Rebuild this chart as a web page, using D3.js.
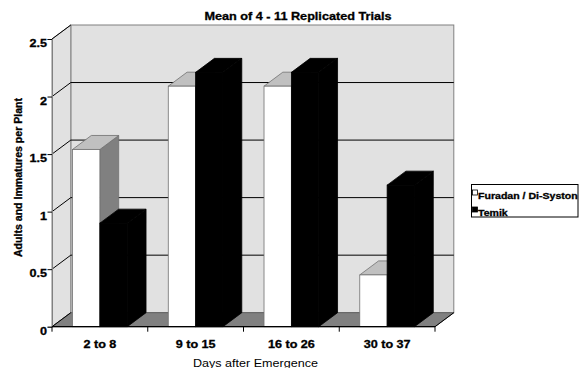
<!DOCTYPE html>
<html>
<head>
<meta charset="utf-8">
<script src="https://cdn.jsdelivr.net/npm/d3@7"></script>
<style>
  html, body { margin: 0; padding: 0; background: #fff; }
  svg { display: block; }
  text { font-family: "Liberation Sans", Arial, sans-serif; fill: #000; }
  text.heavy { stroke: #000; stroke-width: 0.3px; }
</style>
</head>
<body>
<svg id="chart" width="579" height="368"></svg>
<script>
// Pest counts by sampling period, two soil insecticide treatments
const categories = ["2 to 8", "9 to 15", "16 to 26", "30 to 37"];
const seriesNames = ["Furadan / Di-Syston", "Temik"];
const furadanValues = [1.54, 2.09, 2.09, 0.45];
const temikValues = [0.90, 2.21, 2.21, 1.23];
const yTickValues = [0, 0.5, 1, 1.5, 2, 2.5];
const yTickLabels = ["0", "0.5", "1", "1.5", "2", "2.5"];
const titleText = "Mean of 4 - 11 Replicated Trials";
const xTitleText = "Days after Emergence";
const yTitleText = "Adults and Immatures per Plant";

const svg = d3.select("#chart");

// front plane of the 3-D box and the depth offset to the back wall
const left = 52, right = 435;
const dx = 18.8, dy = -14;
const STRETCH = 1.2; // horizontal widening of all labels

const x = d3.scaleBand().domain(categories).range([left, right]).paddingInner(0).paddingOuter(0);
const xs = d3.scaleBand().domain(seriesNames).range([0, x.bandwidth()]).paddingInner(0).paddingOuter(0.75);
const y = d3.scaleLinear().domain([0, 2.5]).range([326.7, 39]);

const y0 = y(0), yTop = y(2.5);

const seriesStyle = {
  "Furadan / Di-Syston": { front: "#ffffff", top: "#c0c0c0", side: "#808080", stroke: "#707070" },
  "Temik": { front: "#000000", top: "#000000", side: "#000000", stroke: "#000000" }
};

const pts = p => p.map(d => d.join(",")).join(" ");

function widen(sel, factor) {
  sel.each(function () {
    const w = this.getComputedTextLength();
    this.setAttribute("textLength", w * factor);
    this.setAttribute("lengthAdjust", "spacingAndGlyphs");
  });
}
function fixLength(sel, len) {
  sel.attr("textLength", len).attr("lengthAdjust", "spacingAndGlyphs");
}

// walls and floor
const box = svg.append("g");
box.append("rect")
  .attr("x", left + dx).attr("y", yTop + dy)
  .attr("width", right - left).attr("height", y0 - yTop)
  .attr("fill", "#e1e1e1").attr("stroke", "#808080").attr("stroke-width", 1);
box.append("polygon")
  .attr("points", pts([[left, yTop], [left + dx, yTop + dy], [left + dx, y0 + dy], [left, y0]]))
  .attr("fill", "#e1e1e1").attr("stroke", "#808080").attr("stroke-width", 1);
box.append("polygon")
  .attr("points", pts([[left, y0], [left + dx, y0 + dy], [right + dx, y0 + dy], [right, y0]]))
  .attr("fill", "#808080").attr("stroke", "#606060").attr("stroke-width", 1);

// gridlines on back wall and left wall
const grid = svg.append("g");
grid.selectAll("line.back")
  .data(yTickValues.filter(v => v > 0 && v < 2.5))
  .join("line").attr("class", "back")
  .attr("x1", left + dx).attr("x2", right + dx)
  .attr("y1", d => y(d) + dy).attr("y2", d => y(d) + dy)
  .attr("stroke", "#000").attr("stroke-width", 1);
grid.selectAll("line.side")
  .data(yTickValues)
  .join("line").attr("class", "side")
  .attr("x1", left).attr("x2", left + dx)
  .attr("y1", d => y(d)).attr("y2", d => y(d) + dy)
  .attr("stroke", "#000").attr("stroke-width", 1);

// value axis
const yAxisG = svg.append("g").attr("transform", `translate(${left},0)`)
  .call(d3.axisLeft(y).tickValues(yTickValues).tickSize(4.5)
    .tickFormat((d, i) => yTickLabels[i]));
yAxisG.select(".domain").attr("stroke", "#808080");
yAxisG.selectAll(".tick line").attr("stroke", "#000");
yAxisG.selectAll(".tick text")
  .attr("class", "heavy")
  .attr("x", -5).attr("dy", "0.78em").attr("y", -0.5)
  .attr("font-size", 10.5).attr("font-weight", "bold")
  .attr("font-family", "'Liberation Sans', Arial, sans-serif")
  .call(widen, STRETCH);

// bars
const rows = categories.map((c, i) => ({
  cat: c,
  vals: [
    { s: seriesNames[0], v: furadanValues[i] },
    { s: seriesNames[1], v: temikValues[i] }
  ]
}));

const barsG = svg.append("g");
rows.forEach(r => {
  r.vals.forEach(d => {
    const st = seriesStyle[d.s];
    const bx = x(r.cat) + xs(d.s), bw = xs.bandwidth();
    const by = y(d.v);
    const g = barsG.append("g");
    g.append("polygon")
      .attr("points", pts([[bx + bw, by], [bx + bw + dx, by + dy], [bx + bw + dx, y0 + dy], [bx + bw, y0]]))
      .attr("fill", st.side).attr("stroke", st.stroke).attr("stroke-width", 0.8);
    g.append("polygon")
      .attr("points", pts([[bx, by], [bx + dx, by + dy], [bx + bw + dx, by + dy], [bx + bw, by]]))
      .attr("fill", st.top).attr("stroke", st.stroke).attr("stroke-width", 0.8);
    g.append("rect")
      .attr("x", bx).attr("y", by).attr("width", bw).attr("height", y0 - by)
      .attr("fill", st.front).attr("stroke", st.stroke).attr("stroke-width", 0.8);
  });
});

// category axis along the front of the floor
const xAxisG = svg.append("g").attr("transform", `translate(0,${y0})`)
  .call(d3.axisBottom(x).tickSize(0).tickPadding(14));
xAxisG.select(".domain").remove();
xAxisG.append("line")
  .attr("x1", left).attr("x2", right).attr("y1", 0).attr("y2", 0)
  .attr("stroke", "#000").attr("stroke-width", 1.2);
xAxisG.append("line")
  .attr("x1", right).attr("x2", right + dx).attr("y1", 0).attr("y2", dy)
  .attr("stroke", "#000").attr("stroke-width", 1);
xAxisG.selectAll("line.cat")
  .data(categories.map(c => x(c)).concat([right]))
  .join("line").attr("class", "cat")
  .attr("x1", d => d).attr("x2", d => d).attr("y1", 0).attr("y2", 5)
  .attr("stroke", "#000");
xAxisG.selectAll(".tick text")
  .attr("class", "heavy")
  .attr("font-size", 10.5).attr("font-weight", "bold")
  .attr("font-family", "'Liberation Sans', Arial, sans-serif")
  .attr("dy", "0.71em")
  .call(widen, STRETCH);

// titles
svg.append("text")
  .attr("class", "heavy")
  .attr("x", 298).attr("y", 20).attr("text-anchor", "middle")
  .attr("font-size", 10.5).attr("font-weight", "bold")
  .text(titleText).call(fixLength, 187);
svg.append("text")
  .attr("x", 255.5).attr("y", 367).attr("text-anchor", "middle")
  .attr("font-size", 10.5)
  .text(xTitleText).call(fixLength, 125);
svg.append("text")
  .attr("class", "heavy")
  .attr("transform", "translate(22,177.5) rotate(-90)")
  .attr("text-anchor", "middle")
  .attr("font-size", 10.5).attr("font-weight", "bold")
  .text(yTitleText).call(fixLength, 159);

// legend
const lg = svg.append("g");
lg.append("rect")
  .attr("x", 471.5).attr("y", 184.5).attr("width", 106.5).attr("height", 32.5)
  .attr("fill", "#fff").attr("stroke", "#000").attr("stroke-width", 1);
const legendRows = svg.append("g").selectAll("g")
  .data(seriesNames).join("g")
  .attr("transform", (d, i) => `translate(472.5,${190 + i * 17})`);
legendRows.append("rect")
  .attr("x", 0).attr("y", 0).attr("width", 5).attr("height", 5)
  .attr("fill", d => seriesStyle[d].front).attr("stroke", "#000").attr("stroke-width", 0.8);
legendRows.append("text")
  .attr("class", "heavy")
  .attr("x", 5.5).attr("y", 9)
  .attr("font-size", 8.8).attr("font-weight", "bold")
  .text(d => d)
  .call(widen, STRETCH);
</script>
</body>
</html>
